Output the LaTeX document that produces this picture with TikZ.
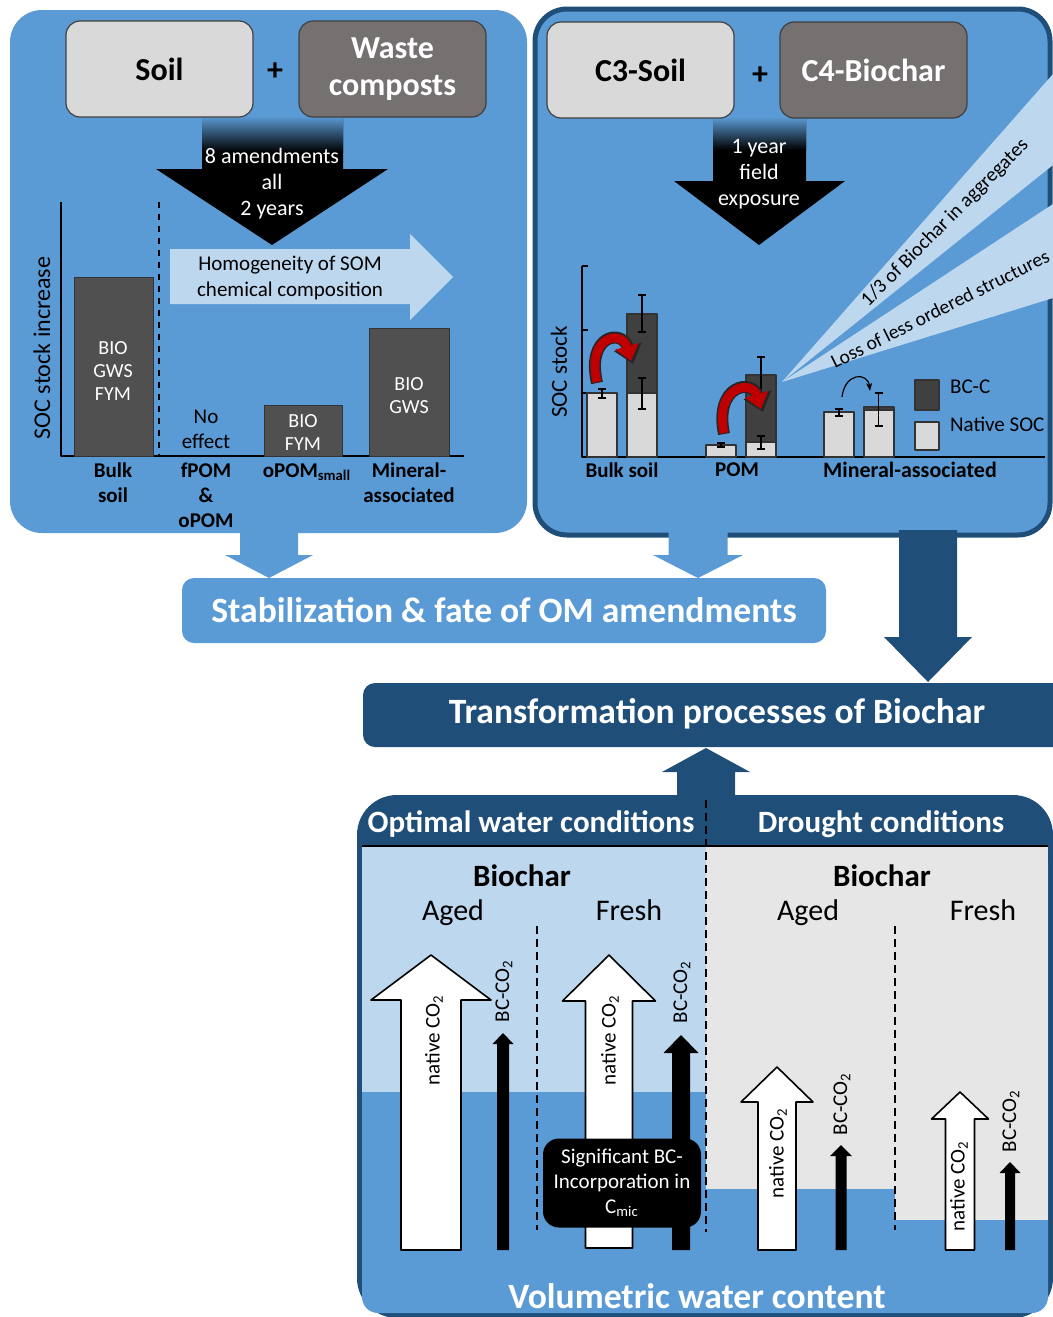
\documentclass[tikz,border=0pt]{standalone}
\usepackage{fontspec}
\setmainfont{Carlito}
\usetikzlibrary{arrows.meta}
\definecolor{midblue}{HTML}{5B9BD5}
\definecolor{darkblue}{HTML}{1F4E79}
\definecolor{paleblue}{HTML}{BDD7EE}
\definecolor{lightgrey}{HTML}{D9D9D9}
\definecolor{stonegrey}{HTML}{767171}
\definecolor{bargrey}{HTML}{505050}
\definecolor{bcgrey}{HTML}{404040}
\definecolor{drygrey}{HTML}{E7E6E6}
\definecolor{curvered}{HTML}{C00000}
\tikzset{
  inbox/.style={draw=black!75, line width=0.6pt, rounded corners=7pt, minimum width=93.5pt, minimum height=48pt, align=center, font=\fontsize{16}{18.5}\selectfont\bfseries},
  bandtitle/.style={font=\fontsize{15.5}{18}\selectfont\bfseries, text=white},
  bandbig/.style={font=\fontsize{17.8}{20}\selectfont\bfseries, text=white},
  axlabel/.style={font=\fontsize{10.5}{12.6}\selectfont\bfseries, align=center},
  note/.style={font=\fontsize{10.5}{12.6}\selectfont, align=center},
  bartext/.style={font=\fontsize{10}{11.5}\selectfont, text=white, align=center},
  barfill/.style={fill=bargrey, draw=black!80, line width=0.5pt},
  nativebar/.style={fill=lightgrey, draw=black!80, line width=0.7pt},
  bcbar/.style={fill=bcgrey, draw=black!80, line width=0.7pt},
  agetext/.style={font=\fontsize{15}{18}\selectfont, anchor=base},
  longdash/.style={dash pattern=on 4pt off 2.5pt, line width=0.8pt},
  co2text/.style={font=\fontsize{10.5}{12}\selectfont, rotate=90}
}
\begin{document}
\begin{tikzpicture}[x=0.5pt, y=-0.5pt, line join=round, >=Stealth]
\useasboundingbox (0,0) rectangle (1053,1317);
\def\upblock#1#2#3#4#5#6#7{\path[#1] ({#2-#3},#7) -- ({#2-#3},#5) -- ({#2-#4},#5) -- (#2,#6) -- ({#2+#4},#5) -- ({#2+#3},#5) -- ({#2+#3},#7) -- cycle;}
\def\errbar#1#2#3{\draw[line width=0.6pt] (#1,#2) -- (#1,#3) ({#1-4},#2) -- ({#1+4},#2) ({#1-4},#3) -- ({#1+4},#3);}

\fill[midblue, rounded corners=16pt] (10,10) rectangle (527,533);
\fill (202,117) -- (343,117) -- (343,169) -- (388,169) -- (272,245) -- (156,169) -- (202,169) -- cycle;
\shade[top color=midblue, bottom color=black] (202,116) rectangle (343,152);
\node[inbox, fill=lightgrey] (soil) at (159.5,69) {Soil};
\node[inbox, fill=stonegrey, text=white] (waste) at (392.5,69) {Waste\\composts};
\node[font=\fontsize{16}{18}\selectfont\bfseries] (plusA) at (275,72) {+};
\node[note, text=white, font=\fontsize{11}{13}\selectfont] (amend) at (272,184) {8 amendments\\all\\2 years};
\fill[paleblue] (170,249) -- (410,249) -- (410,234) -- (453,277) -- (410,320) -- (410,304) -- (170,304) -- cycle;
\node[note] (homog) at (290,278) {Homogeneity of SOM\\chemical composition};
\draw[line width=0.7pt] (61,202) -- (61,456) -- (464,456);
\draw[dashed, line width=0.6pt] (159,202) -- (159,456);
\draw[barfill] (74,277) rectangle (153,456);
\draw[barfill] (264,405) rectangle (342,456);
\draw[barfill] (369,328) rectangle (449,456);
\node[bartext] (bulkbar) at (113,371) {BIO\\GWS\\FYM};
\node[bartext] (opombar) at (303,433) {BIO\\FYM};
\node[bartext] (minbar) at (409,396) {BIO\\GWS};
\node[note, text=black] (noeff) at (206,429) {No\\effect};
\node[note, rotate=90, font=\fontsize{12}{14}\selectfont] (socinc) at (42,348) {SOC stock increase};
\node[axlabel] (bulkA) at (113,483) {Bulk\\soil};
\node[axlabel] (fpom) at (206,495) {fPOM\\\&\\oPOM};
\node[axlabel] (opoms) at (307,472) {oPOM\textsubscript{small}};
\node[axlabel] (minA) at (409,483) {Mineral-\\associated};

\draw[darkblue, line width=2.5pt, fill=midblue, rounded corners=16pt] (535,9) rectangle (1050,535);
\fill (713,118) -- (806,118) -- (806,181) -- (845,181) -- (759,245) -- (674,181) -- (713,181) -- cycle;
\shade[top color=midblue, bottom color=black] (713,117) rectangle (806,150);
\node[inbox, fill=lightgrey] (cthree) at (640.5,70) {C3-Soil};
\node[inbox, fill=stonegrey, text=white] (cfour) at (873.5,70) {C4-Biochar};
\node[font=\fontsize{16}{18}\selectfont\bfseries] (plusB) at (760,76) {+};
\node[note, text=white, font=\fontsize{11}{13}\selectfont] (expo) at (759,174) {1 year\\field\\exposure};
\fill[paleblue] (782,382) -- (1053,74) -- (1053,165) -- cycle;
\fill[paleblue] (782,382) -- (1053,204) -- (1053,298) -- cycle;
\node[note, rotate=45, font=\fontsize{10}{11}\selectfont] (aggr) at (945,223) {1/3 of Biochar in aggregates};
\node[note, rotate=26.5, font=\fontsize{9.8}{11}\selectfont] (loss) at (940,309) {Loss of less ordered structures};
\draw[line width=0.7pt] (582,266) -- (582,457) -- (1045,457);
\foreach \y in {266,330,393}\draw[line width=0.7pt] (582,\y) -- (588,\y);
\draw[nativebar] (587,393) rectangle (617,457);
\draw[nativebar] (627,393) rectangle (657,457);
\draw[bcbar] (627,314) rectangle (657,393);
\draw[nativebar] (706,445) rectangle (736,457);
\draw[nativebar] (746,442) rectangle (776,457);
\draw[bcbar] (746,375) rectangle (776,442);
\draw[nativebar] (824,412) rectangle (854,457);
\draw[nativebar] (864,410) rectangle (894,457);
\draw[bcbar] (864,407) rectangle (894,410);
\errbar{602}{389}{398}
\errbar{642}{295}{332}
\errbar{642}{378}{409}
\errbar{721}{443}{447}
\errbar{761}{357}{394}
\errbar{761}{436}{449}
\errbar{839}{409}{416}
\errbar{878.5}{393}{426}
\draw[black!85, line width=6pt, -{Triangle[length=9pt,width=14pt]}] (597,383) .. controls (586,335) and (622,328) .. (633,364);
\draw[curvered, line width=4.4pt, -{Triangle[length=7.6pt,width=11.6pt]}] (597,382) .. controls (586,336) and (622,329) .. (631,361);
\draw[black!85, line width=6pt, -{Triangle[length=9pt,width=14pt]}] (724,434) .. controls (714,385) and (752,378) .. (763,412);
\draw[curvered, line width=4.4pt, -{Triangle[length=7.6pt,width=11.6pt]}] (724,433) .. controls (714,386) and (752,379) .. (761,409);
\draw[line width=0.6pt, -{Stealth[length=4pt]}] (842,397) .. controls (845,372) and (868,372) .. (870,391);
\draw[bcbar] (915,380) rectangle (939,410);
\draw[nativebar] (915,422) rectangle (939,450);
\node[note, anchor=west, font=\fontsize{10.5}{13}\selectfont] (bcc) at (943,387) {BC-C};
\node[note, anchor=west, font=\fontsize{10.5}{13}\selectfont] (natsoc) at (943,424) {Native SOC};
\node[note, rotate=90, font=\fontsize{11.5}{13}\selectfont] (socst) at (559,372) {SOC stock};
\node[axlabel] (bulkB) at (622,470) {Bulk soil};
\node[axlabel] (pom) at (737,470) {POM};
\node[axlabel, font=\fontsize{11}{13}\selectfont\bfseries] (minB) at (910,470) {Mineral-associated};

\upblock{fill=midblue}{269}{29}{44}{555}{578}{525}
\upblock{fill=midblue}{698}{29.5}{45}{555}{578}{528}
\upblock{fill=darkblue}{928}{29}{44}{637}{682}{530}
\fill[midblue, rounded corners=6pt] (182,578) rectangle (826,643);
\node[bandbig] (stab) at (504,610) {Stabilization \& fate of OM amendments};
\fill[darkblue, rounded corners=6pt] (363,683) rectangle (1070,747);
\node[bandbig] (trans) at (717,714) {Transformation processes of Biochar};
\upblock{fill=darkblue}{706}{29}{44}{772}{748}{805}

\fill[darkblue, rounded corners=20pt] (357,795) rectangle (1053,1318);
\fill[midblue, rounded corners=8pt] (362,846) rectangle (1048,1313);
\fill[paleblue] (362,846) rectangle (706,1092);
\fill[drygrey] (706,846) rectangle (895,1189);
\fill[drygrey] (895,846) rectangle (1048,1220);
\draw[line width=1pt] (362,846) -- (1048,846);
\draw[longdash] (706,800) -- (706,1232);
\draw[longdash] (537,926) -- (537,1230);
\draw[longdash] (895,926) -- (895,1230);
\node[bandtitle] (optimal) at (531,824) {Optimal water conditions};
\node[bandtitle] (drought) at (881,824) {Drought conditions};
\node[agetext, font=\fontsize{15.5}{18}\selectfont\bfseries] (bcopt) at (522,886) {Biochar};
\node[agetext, font=\fontsize{15.5}{18}\selectfont\bfseries] (bcdry) at (882,886) {Biochar};
\node[agetext] (agedA) at (453,920) {Aged};
\node[agetext] (freshA) at (629,920) {Fresh};
\node[agetext] (agedB) at (808,920) {Aged};
\node[agetext] (freshB) at (983,920) {Fresh};
\upblock{fill=white, draw=black, line width=0.8pt}{431}{30}{60}{1000}{955}{1250}
\upblock{fill=white, draw=black, line width=0.8pt}{609}{23.5}{46.5}{1001}{955}{1248}
\upblock{fill=white, draw=black, line width=0.8pt}{777}{19}{36}{1102}{1067}{1250}
\upblock{fill=white, draw=black, line width=0.8pt}{960}{14.5}{28.5}{1119}{1092}{1250}
\upblock{fill=black}{503}{6}{10.5}{1044}{1033}{1250}
\upblock{fill=black}{681}{9}{17.5}{1053}{1035}{1250}
\upblock{fill=black}{841}{5.5}{11}{1156}{1145}{1250}
\upblock{fill=black}{1010}{5}{10.5}{1173}{1162}{1250}
\node[co2text] (natA) at (434,1040) {native CO\textsubscript{2}};
\node[co2text] (natB) at (610,1040) {native CO\textsubscript{2}};
\node[co2text] (natC) at (778,1153) {native CO\textsubscript{2}};
\node[co2text] (natD) at (959,1186) {native CO\textsubscript{2}};
\node[co2text] (bcA) at (504,991) {BC-CO\textsubscript{2}};
\node[co2text] (bcB) at (682,992) {BC-CO\textsubscript{2}};
\node[co2text] (bcC) at (842,1104) {BC-CO\textsubscript{2}};
\node[co2text] (bcD) at (1011,1121) {BC-CO\textsubscript{2}};
\node[fill=black, rounded corners=8pt, minimum width=79pt, minimum height=44.5pt, text=white, align=center, font=\fontsize{10.5}{12.5}\selectfont] (signif) at (622,1183) {Significant BC-\\Incorporation in\\C\textsubscript{mic}};
\node[bandbig] (vwc) at (697,1296) {Volumetric water content};
\end{tikzpicture}
\end{document}
